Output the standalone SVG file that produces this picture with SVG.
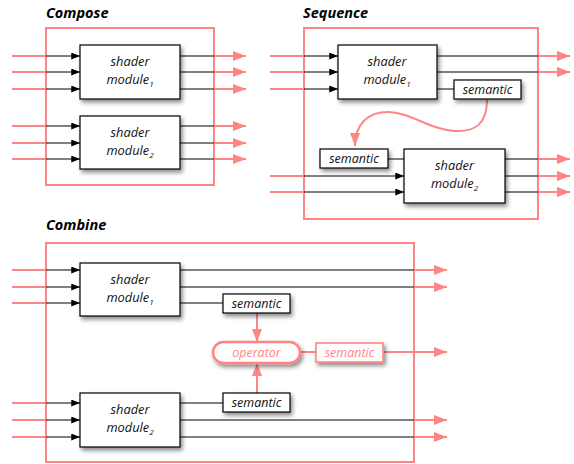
<svg xmlns="http://www.w3.org/2000/svg" width="574" height="464" viewBox="0 0 574 464">
<defs>
<style>
.frame{fill:none;stroke:#ff8585;stroke-width:2}
.mod{fill:#fff;stroke:#000;stroke-width:1.2;filter:url(#sh)}
.sem{fill:#fff;stroke:#000;stroke-width:1.2;filter:url(#sh)}
.psem{fill:#fff;stroke:#ff8585;stroke-width:1.6;filter:url(#sh)}
.op{fill:#fff;stroke:#ff8585;stroke-width:2.5;filter:url(#sh)}
.t{font-family:"Open Sans","Noto Sans",sans-serif;font-style:italic;font-size:12.8px;fill:#111;text-anchor:middle}
.ts{font-family:"Open Sans","Noto Sans",sans-serif;font-style:italic;font-size:12.5px;fill:#111;text-anchor:middle}
.tp{font-family:"Open Sans","Noto Sans",sans-serif;font-style:italic;font-size:12.5px;fill:#ff8585;text-anchor:middle}
.title{font-family:"Open Sans","Noto Sans",sans-serif;font-style:italic;font-weight:bold;font-size:14.5px;fill:#000}
.sub{font-size:8px}
.pl{stroke:#ff8585;stroke-width:2;fill:none}
.pa{stroke:#ff8585;stroke-width:2;fill:none;marker-end:url(#ap)}
.bl{stroke:#000;stroke-width:1;fill:none}
.ba{stroke:#000;stroke-width:1;fill:none;marker-end:url(#ab)}
</style>
<filter id="sh" x="-20%" y="-30%" width="150%" height="180%">
<feDropShadow dx="2" dy="3" stdDeviation="2" flood-color="#000" flood-opacity="0.45"/>
</filter>
<marker id="ab" viewBox="0 0 10 8" refX="10" refY="4" markerWidth="9" markerHeight="7" markerUnits="userSpaceOnUse" orient="auto"><path d="M0,0 L10,4 L0,8z" fill="#000"/></marker>
<marker id="ap" viewBox="0 0 13 10" refX="13" refY="5" markerWidth="13" markerHeight="10" markerUnits="userSpaceOnUse" orient="auto"><path d="M0,0 L13,5 L0,10z" fill="#ff8585"/></marker>
</defs>
<rect width="574" height="464" fill="#fff"/>

<text class="title" x="46" y="18">Compose</text>
<text class="title" x="303" y="18">Sequence</text>
<text class="title" x="46" y="230">Combine</text>

<rect class="frame" x="46" y="28" width="168" height="157"/>
<rect class="frame" x="304" y="28" width="234" height="191"/>
<rect class="frame" x="46" y="243" width="368" height="219"/>

<g id="connectors">
<path class="pl" d="M12,56H46M12,72H46M12,89H46M12,126H46M12,143H46M12,159H46"/>
<path class="ba" d="M46,56H80"/><path class="ba" d="M46,72H80"/><path class="ba" d="M46,89H80"/>
<path class="ba" d="M46,126H80"/><path class="ba" d="M46,143H80"/><path class="ba" d="M46,159H80"/>
<path class="bl" d="M180,56H214M180,72H214M180,89H214M180,126H214M180,143H214M180,159H214"/>
<path class="pa" d="M214,56H246"/><path class="pa" d="M214,72H246"/><path class="pa" d="M214,89H246"/>
<path class="pa" d="M214,126H246"/><path class="pa" d="M214,143H246"/><path class="pa" d="M214,159H246"/>

<path class="pl" d="M270,56H304M270,72H304M270,89H304M270,176H304M270,192H304"/>
<path class="ba" d="M304,56H338"/><path class="ba" d="M304,72H338"/><path class="ba" d="M304,89H338"/>
<path class="ba" d="M304,176H404"/><path class="ba" d="M304,192H404"/>
<path class="bl" d="M437,56H538M437,72H538M437,89H454M388,159H404M505,159H538M505,176H538M505,192H538"/>
<path class="pa" d="M538,56H570"/><path class="pa" d="M538,72H570"/>
<path class="pa" d="M538,159H570"/><path class="pa" d="M538,176H570"/><path class="pa" d="M538,192H570"/>
<path class="pa" d="M487,100C487,124 475,132 455,131C430,130 410,112 388,112C368,112 355,124 355,146"/>

<path class="pl" d="M12,270H46M12,287H46M12,303H46M12,403H46M12,420H46M12,437H46"/>
<path class="ba" d="M46,270H80"/><path class="ba" d="M46,287H80"/><path class="ba" d="M46,303H80"/>
<path class="ba" d="M46,403H80"/><path class="ba" d="M46,420H80"/><path class="ba" d="M46,437H80"/>
<path class="bl" d="M180,270H414M180,287H414M180,303H223M180,403H223M180,420H414M180,437H414"/>
<path class="pa" d="M414,270H447"/><path class="pa" d="M414,287H447"/>
<path class="pa" d="M414,420H447"/><path class="pa" d="M414,437H447"/>
<path class="pa" d="M257,313V342"/>
<path class="pa" d="M257,393V363"/>
<path class="pl" d="M300,352H316"/>
<path class="pa" d="M383,352H447"/>
</g>

<g id="compose-module1"><rect class="mod" x="80" y="45" width="100" height="54"/>
<text class="t" x="130" y="66">shader</text><text class="t" x="130" y="84">module<tspan class="sub" dy="3">1</tspan></text></g>
<g id="compose-module2"><rect class="mod" x="80" y="116" width="100" height="53"/>
<text class="t" x="130" y="137">shader</text><text class="t" x="130" y="155">module<tspan class="sub" dy="3">2</tspan></text></g>

<g id="sequence-module1"><rect class="mod" x="338" y="45" width="99" height="54"/>
<text class="t" x="387" y="66">shader</text><text class="t" x="387" y="84">module<tspan class="sub" dy="3">1</tspan></text></g>
<g id="sequence-semantic1"><rect class="sem" x="454" y="80" width="67" height="19"/>
<text class="ts" x="487.5" y="94">semantic</text></g>
<g id="sequence-semantic2"><rect class="sem" x="320" y="149" width="68" height="19"/>
<text class="ts" x="354" y="163">semantic</text></g>
<g id="sequence-module2"><rect class="mod" x="404" y="149" width="101" height="54"/>
<text class="t" x="454.5" y="170">shader</text><text class="t" x="454.5" y="188">module<tspan class="sub" dy="3">2</tspan></text></g>

<g id="combine-module1"><rect class="mod" x="80" y="263" width="100" height="53"/>
<text class="t" x="130" y="284">shader</text><text class="t" x="130" y="302">module<tspan class="sub" dy="3">1</tspan></text></g>
<g id="combine-semantic1"><rect class="sem" x="223" y="294" width="67" height="19"/>
<text class="ts" x="256.5" y="308">semantic</text></g>
<g id="combine-operator"><rect class="op" x="213" y="342" width="87" height="21" rx="10.5"/>
<text class="tp" x="256.5" y="357">operator</text></g>
<g id="combine-semantic-out"><rect class="psem" x="316" y="343" width="67" height="19"/>
<text class="tp" x="349.5" y="357">semantic</text></g>
<g id="combine-semantic2"><rect class="sem" x="223" y="393" width="67" height="19"/>
<text class="ts" x="256.5" y="407">semantic</text></g>
<g id="combine-module2"><rect class="mod" x="80" y="393" width="100" height="54"/>
<text class="t" x="130" y="414">shader</text><text class="t" x="130" y="432">module<tspan class="sub" dy="3">2</tspan></text></g>
</svg>
